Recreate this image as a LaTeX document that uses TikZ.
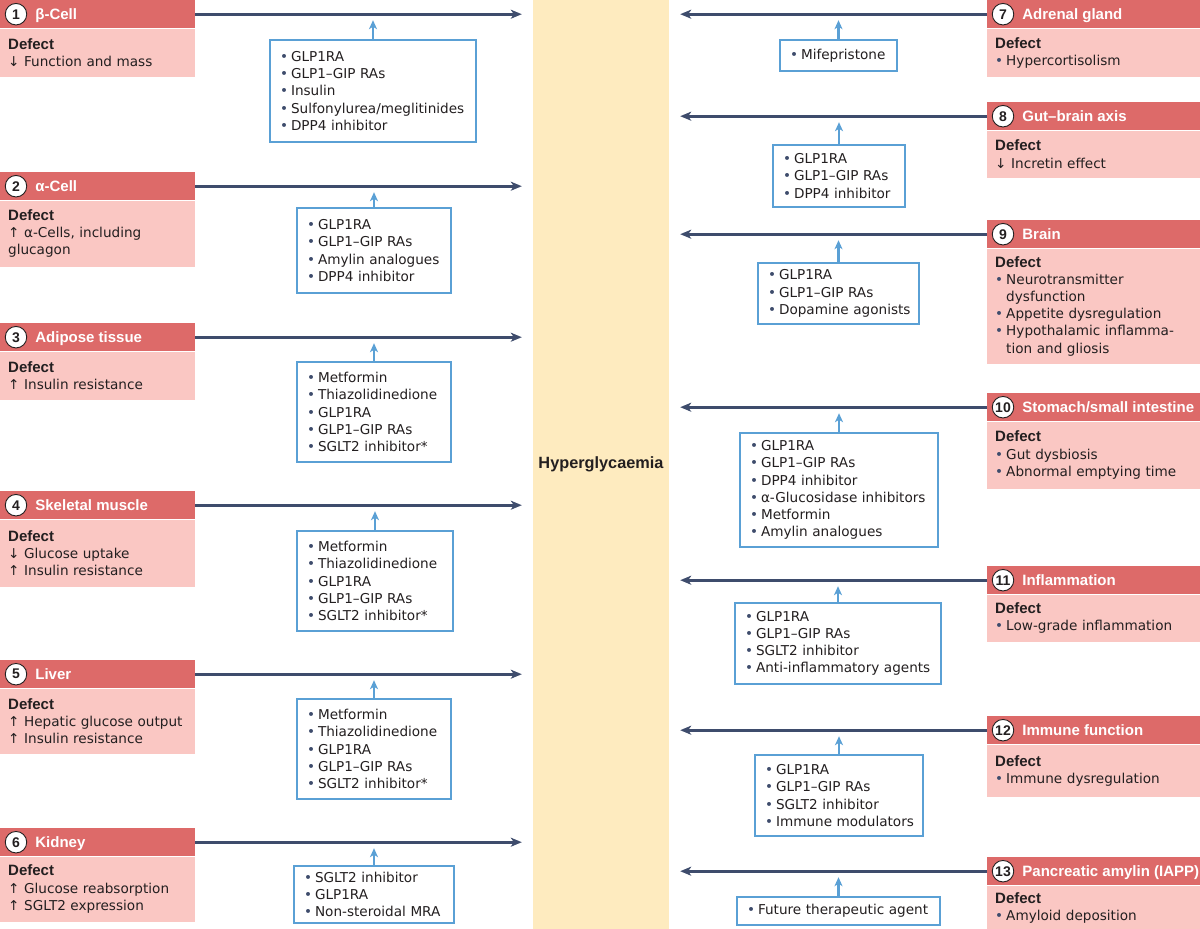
\documentclass[tikz,border=0pt]{standalone}
\usepackage{fontspec}
\setmainfont{DejaVu Sans}
\newfontfamily\boldsans{Liberation Sans}
\usetikzlibrary{arrows.meta,positioning}
\definecolor{hdrred}{HTML}{DD6A69}
\definecolor{bodypink}{HTML}{FAC7C3}
\definecolor{bandyellow}{HTML}{FEEBBF}
\definecolor{arrowdark}{HTML}{3E4C6C}
\definecolor{drugblue}{HTML}{5AA0D5}
\definecolor{txt}{HTML}{231F20}
\newcommand{\bul}{{\color{arrowdark}\textbullet}\hspace{3pt}}
\newcommand{\hang}{\phantom{\textbullet}\hspace{3pt}}
\newcommand{\drg}[1]{\mbox{\bul #1}}
\newcommand{\dfct}{{\boldsans\bfseries\fontsize{15}{17.2}\selectfont Defect}}
\tikzset{
  every node/.style={font=\fontsize{13.6}{17.2}\selectfont, text=txt},
  hdr/.style={fill=hdrred, minimum height=28pt, inner sep=0pt, anchor=north west},
  num/.style={circle, draw=txt, fill=white, line width=0.9pt, minimum size=21.5pt,
    inner sep=0pt, font=\boldsans\fontsize{14}{14}\selectfont\bfseries},
  hdrtitle/.style={inner sep=0pt, anchor=base west, text=white,
    font=\boldsans\fontsize{15}{17}\selectfont\bfseries},
  bodyL/.style={fill=bodypink, anchor=north west, minimum width=195pt,
    text width=179pt, inner xsep=8pt, inner ysep=0pt, align=left},
  bodyR/.style={fill=bodypink, anchor=north west, minimum width=213pt,
    text width=197pt, inner xsep=8pt, inner ysep=0pt, align=left},
  drugbox/.style={draw=drugblue, line width=1.3pt, fill=white, inner xsep=10pt,
    inner ysep=0pt, align=left},
  mainarrow/.style={draw=arrowdark, line width=2.6pt, shorten >=11pt,
    -{Stealth[length=11pt,width=9pt,inset=3pt]}},
  drugarrow/.style={draw=drugblue, line width=2.3pt, shorten >=6pt,
    -{Stealth[length=9pt,width=8pt,inset=2.5pt]}},
}

\begin{document}
\begin{tikzpicture}[x=1pt, y=-1pt]
\useasboundingbox (0,0) rectangle (1200,929);

%% Central band
\node[fill=bandyellow, minimum width=136pt, minimum height=929pt, inner sep=0pt,
  font=\boldsans\fontsize{16.3}{18}\selectfont\bfseries] (hyper) at (601,464.5) {Hyperglycaemia};

%% Panel 1
\node[hdr, minimum width=195pt] (h1) at (0,0) {};
\node[num] (n1) at ([xshift=16pt]h1.west) {1};
\node[hdrtitle] (t1) at ([xshift=8pt,yshift=-4.8pt]n1.east) {β-Cell};
\node[bodyL, minimum height=48pt] (b1) at (h1.south west) {\dfct\\↓ Function and mass};
\node[drugbox, minimum width=206pt, text width=186pt, minimum height=102pt] (d1) at (373,91)
  {\drg{GLP1RA}\\\drg{GLP1–GIP RAs}\\\drg{Insulin}\\\drg{Sulfonylurea/meglitinides}\\\drg{DPP4 inhibitor}};

%% Panel 2
\node[hdr, minimum width=195pt] (h2) at (0,172) {};
\node[num] (n2) at ([xshift=16pt]h2.west) {2};
\node[hdrtitle] (t2) at ([xshift=8pt,yshift=-4.8pt]n2.east) {α-Cell};
\node[bodyL, minimum height=66pt] (b2) at (h2.south west) {\dfct\\↑ α-Cells, including\\glucagon};
\node[drugbox, minimum width=154pt, text width=134pt, minimum height=85pt] (d2) at (374,250.5)
  {\drg{GLP1RA}\\\drg{GLP1–GIP RAs}\\\drg{Amylin analogues}\\\drg{DPP4 inhibitor}};

%% Panel 3
\node[hdr, minimum width=195pt] (h3) at (0,323) {};
\node[num] (n3) at ([xshift=16pt]h3.west) {3};
\node[hdrtitle] (t3) at ([xshift=8pt,yshift=-4.8pt]n3.east) {Adipose tissue};
\node[bodyL, minimum height=48pt] (b3) at (h3.south west) {\dfct\\↑ Insulin resistance};
\node[drugbox, minimum width=154pt, text width=134pt, minimum height=100pt] (d3) at (374,412)
  {\drg{Metformin}\\\drg{Thiazolidinedione}\\\drg{GLP1RA}\\\drg{GLP1–GIP RAs}\\\drg{SGLT2 inhibitor*}};

%% Panel 4
\node[hdr, minimum width=195pt] (h4) at (0,491) {};
\node[num] (n4) at ([xshift=16pt]h4.west) {4};
\node[hdrtitle] (t4) at ([xshift=8pt,yshift=-4.8pt]n4.east) {Skeletal muscle};
\node[bodyL, minimum height=67pt] (b4) at (h4.south west) {\dfct\\↓ Glucose uptake\\↑ Insulin resistance};
\node[drugbox, minimum width=156pt, text width=136pt, minimum height=100pt] (d4) at (375,581)
  {\drg{Metformin}\\\drg{Thiazolidinedione}\\\drg{GLP1RA}\\\drg{GLP1–GIP RAs}\\\drg{SGLT2 inhibitor*}};

%% Panel 5
\node[hdr, minimum width=195pt] (h5) at (0,660) {};
\node[num] (n5) at ([xshift=16pt]h5.west) {5};
\node[hdrtitle] (t5) at ([xshift=8pt,yshift=-4.8pt]n5.east) {Liver};
\node[bodyL, minimum height=65pt] (b5) at (h5.south west) {\dfct\\↑ Hepatic glucose output\\↑ Insulin resistance};
\node[drugbox, minimum width=154pt, text width=134pt, minimum height=100pt] (d5) at (374,749)
  {\drg{Metformin}\\\drg{Thiazolidinedione}\\\drg{GLP1RA}\\\drg{GLP1–GIP RAs}\\\drg{SGLT2 inhibitor*}};

%% Panel 6
\node[hdr, minimum width=195pt] (h6) at (0,828) {};
\node[num] (n6) at ([xshift=16pt]h6.west) {6};
\node[hdrtitle] (t6) at ([xshift=8pt,yshift=-4.8pt]n6.east) {Kidney};
\node[bodyL, minimum height=65pt] (b6) at (h6.south west) {\dfct\\↑ Glucose reabsorption\\↑ SGLT2 expression};
\node[drugbox, minimum width=160pt, text width=140pt, minimum height=57pt] (d6) at (374,894.5)
  {\drg{SGLT2 inhibitor}\\\drg{GLP1RA}\\\drg{Non-steroidal MRA}};

%% Panel 7
\node[hdr, minimum width=213pt] (h7) at (987,0) {};
\node[num] (n7) at ([xshift=16pt]h7.west) {7};
\node[hdrtitle] (t7) at ([xshift=8pt,yshift=-4.8pt]n7.east) {Adrenal gland};
\node[bodyR, minimum height=48pt] (b7) at (h7.south west) {\dfct\\\bul Hypercortisolism};
\node[drugbox, minimum width=117pt, text width=97pt, minimum height=31pt] (d7) at (838.5,55.5)
  {\drg{Mifepristone}};

%% Panel 8
\node[hdr, minimum width=213pt] (h8) at (987,102) {};
\node[num] (n8) at ([xshift=16pt]h8.west) {8};
\node[hdrtitle] (t8) at ([xshift=8pt,yshift=-4.8pt]n8.east) {Gut–brain axis};
\node[bodyR, minimum height=47pt] (b8) at (h8.south west) {\dfct\\↓ Incretin effect};
\node[drugbox, minimum width=132pt, text width=112pt, minimum height=62pt] (d8) at (839,176)
  {\drg{GLP1RA}\\\drg{GLP1–GIP RAs}\\\drg{DPP4 inhibitor}};

%% Panel 9
\node[hdr, minimum width=213pt] (h9) at (987,220) {};
\node[num] (n9) at ([xshift=16pt]h9.west) {9};
\node[hdrtitle] (t9) at ([xshift=8pt,yshift=-4.8pt]n9.east) {Brain};
\node[bodyR, minimum height=115pt] (b9) at (h9.south west)
  {\dfct\\\bul Neurotransmitter\\\hang dysfunction\\\bul Appetite dysregulation\\\bul Hypothalamic inflamma-\\\hang tion and gliosis};
\node[drugbox, minimum width=161pt, text width=141pt, minimum height=61pt] (d9) at (838.5,293.5)
  {\drg{GLP1RA}\\\drg{GLP1–GIP RAs}\\\drg{Dopamine agonists}};

%% Panel 10
\node[hdr, minimum width=213pt] (h10) at (987,393) {};
\node[num] (n10) at ([xshift=16pt]h10.west) {10};
\node[hdrtitle] (t10) at ([xshift=8pt,yshift=-4.8pt]n10.east) {Stomach/small intestine};
\node[bodyR, minimum height=67pt] (b10) at (h10.south west) {\dfct\\\bul Gut dysbiosis\\\bul Abnormal emptying time};
\node[drugbox, minimum width=198pt, text width=178pt, minimum height=114pt] (d10) at (839,490)
  {\drg{GLP1RA}\\\drg{GLP1–GIP RAs}\\\drg{DPP4 inhibitor}\\\drg{α-Glucosidase inhibitors}\\\drg{Metformin}\\\drg{Amylin analogues}};

%% Panel 11
\node[hdr, minimum width=213pt] (h11) at (987,566) {};
\node[num] (n11) at ([xshift=16pt]h11.west) {11};
\node[hdrtitle] (t11) at ([xshift=8pt,yshift=-4.8pt]n11.east) {Inflammation};
\node[bodyR, minimum height=47pt] (b11) at (h11.south west) {\dfct\\\bul Low-grade inflammation};
\node[drugbox, minimum width=206pt, text width=186pt, minimum height=81pt] (d11) at (838,643.5)
  {\drg{GLP1RA}\\\drg{GLP1–GIP RAs}\\\drg{SGLT2 inhibitor}\\\drg{Anti-inflammatory agents}};

%% Panel 12
\node[hdr, minimum width=213pt] (h12) at (987,716) {};
\node[num] (n12) at ([xshift=16pt]h12.west) {12};
\node[hdrtitle] (t12) at ([xshift=8pt,yshift=-4.8pt]n12.east) {Immune function};
\node[bodyR, minimum height=52pt] (b12) at (h12.south west) {\dfct\\\bul Immune dysregulation};
\node[drugbox, minimum width=168pt, text width=148pt, minimum height=81pt] (d12) at (839,795.5)
  {\drg{GLP1RA}\\\drg{GLP1–GIP RAs}\\\drg{SGLT2 inhibitor}\\\drg{Immune modulators}};

%% Panel 13
\node[hdr, minimum width=213pt] (h13) at (987,857) {};
\node[num] (n13) at ([xshift=16pt]h13.west) {13};
\node[hdrtitle] (t13) at ([xshift=8pt,yshift=-4.8pt]n13.east) {Pancreatic amylin (IAPP)};
\node[bodyR, minimum height=44pt] (b13) at (h13.south west) {\dfct\\\bul Amyloid deposition};
\node[drugbox, minimum width=203pt, text width=183pt, minimum height=28pt] (d13) at (838.5,911)
  {\drg{Future therapeutic agent}};

%% Arrows into the band
\foreach \i in {1,...,6}{
  \draw[mainarrow] (h\i.east) -- (h\i.east -| hyper.west);
  \draw[drugarrow] (d\i.north) -- (d\i.north |- h\i.east);
}
\foreach \i in {7,...,13}{
  \draw[mainarrow] (h\i.west) -- (h\i.west -| hyper.east);
  \draw[drugarrow] (d\i.north) -- (d\i.north |- h\i.west);
}

\end{tikzpicture}
\end{document}
